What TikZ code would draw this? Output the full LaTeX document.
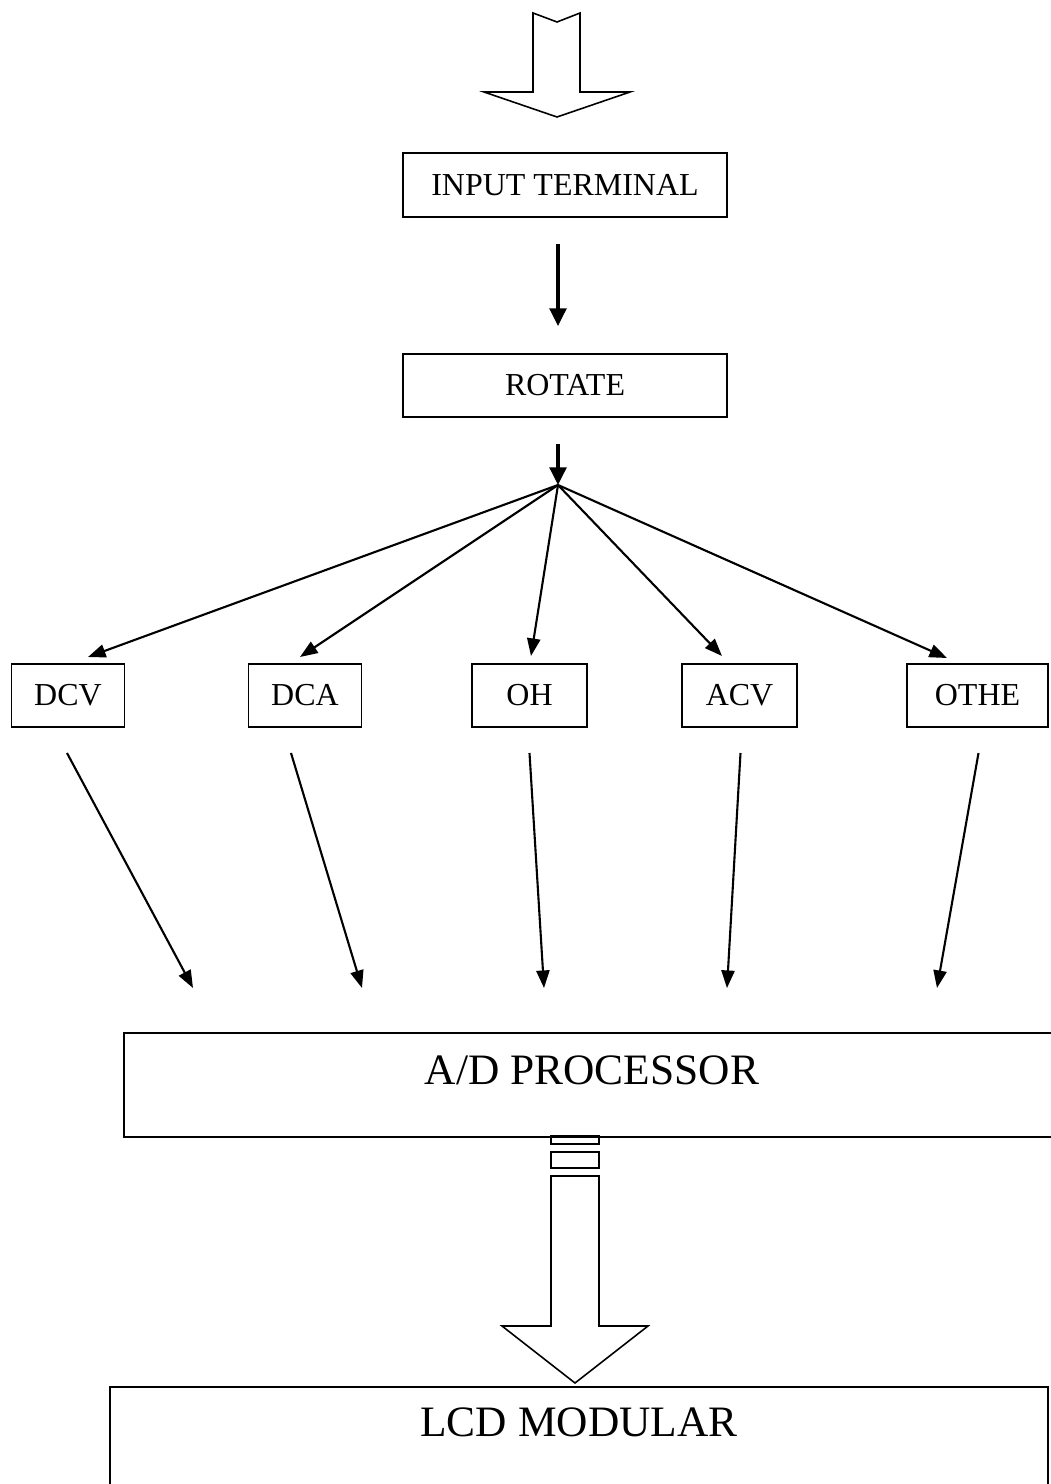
\documentclass[tikz,border=0pt]{standalone}
\usepackage{fontspec}
\setmainfont{Liberation Serif}
\usetikzlibrary{arrows.meta,calc}

\begin{document}
\begin{tikzpicture}[x=0.02cm, y=-0.02cm,
		box/.style={draw, line width=1pt, inner sep=0pt, minimum height=1.26cm, font=\fontsize{18.2}{22}\selectfont},
		bigbox/.style={draw, line width=1pt, inner sep=0pt, anchor=north, font=\fontsize{24.7}{30}\selectfont},
		conn/.style={line width=1.2pt, -{Triangle[length=10pt, width=7.5pt]}},
		thickconn/.style={line width=1.8pt, -{Triangle[length=10pt, width=9.5pt]}},
		blockarrow/.style={line width=0.9pt, fill=white, line join=miter}]
			%%%%% START %%%%%
			
			\path[use as bounding box] (0, 0) rectangle (1051, 1484);
			\clip (0, 0) rectangle (1051, 1484);
			
			\draw[blockarrow] (533, 13) -- (557, 22) -- (580, 13) -- (580, 92) -- (630, 92) -- (557, 117) -- (484, 92) -- (533, 92) -- cycle;
			
			\node[box, minimum width=6.48cm, minimum height=1.28cm] (input) at (565, 185) {INPUT TERMINAL};
			\node[box, minimum width=6.48cm, minimum height=1.26cm] (rotate) at (565, 385.5) {ROTATE};
			
			\coordinate (inputout) at (558, 244);
			\coordinate (rotatein) at (558, 326);
			\draw[thickconn] (inputout) -- (rotatein);
			
			\coordinate (rotateout) at (558, 444);
			\coordinate (hub) at (558, 485);
			\draw[thickconn] (rotateout) -- (hub);
			
			\node[box, minimum width=2.26cm] (dcv) at (68, 695.5) {DCV};
			\node[box, minimum width=2.26cm] (dca) at (305, 695.5) {DCA};
			\node[box, minimum width=2.30cm] (oh) at (529.5, 695.5) {OH};
			\node[box, minimum width=2.30cm] (acv) at (739.5, 695.5) {ACV};
			\node[box, minimum width=2.82cm] (othe) at (977.5, 695.5) {OTHE};
			
			\coordinate (dcvin) at (88, 657);
			\coordinate (dcain) at (300, 657);
			\coordinate (ohin) at (531, 656);
			\coordinate (acvin) at (722, 656);
			\coordinate (othein) at (947, 658);
			\draw[conn] (hub) -- (dcvin);
			\draw[conn] (hub) -- (dcain);
			\draw[conn] (hub) -- (ohin);
			\draw[conn] (hub) -- (acvin);
			\draw[conn] (hub) -- (othein);
			
			\node[bigbox, minimum width=18.72cm, text height=1.04cm, text depth=1.04cm] (adc) at (592, 1032) {A/D PROCESSOR};
			
			\coordinate (dcvout) at (67, 753);
			\coordinate (dcaout) at (291, 753);
			\coordinate (ohout) at (529.5, 753);
			\coordinate (acvout) at (740.5, 753);
			\coordinate (otheout) at (978.5, 753);
			\coordinate (adc1) at (193, 988);
			\coordinate (adc2) at (362, 988);
			\coordinate (adc3) at (544, 988);
			\coordinate (adc4) at (727, 988);
			\coordinate (adc5) at (937, 988);
			\draw[conn] (dcvout) -- (adc1);
			\draw[conn] (dcaout) -- (adc2);
			\draw[conn] (ohout) -- (adc3);
			\draw[conn] (acvout) -- (adc4);
			\draw[conn] (otheout) -- (adc5);
			
			\draw[line width=0.9pt] (551, 1136) rectangle (599, 1144);
			\draw[line width=0.9pt] (551, 1152) rectangle (599, 1168);
			\draw[blockarrow] (551, 1176) -- (599, 1176) -- (599, 1326) -- (648, 1326) -- (575, 1383) -- (502, 1326) -- (551, 1326) -- cycle;
			
			\node[bigbox, minimum width=18.76cm, text height=1cm, text depth=1.5cm] (lcd) at (579, 1386) {LCD MODULAR};
			
			%%%%% END %%%%%
		\end{tikzpicture}
\end{document}
